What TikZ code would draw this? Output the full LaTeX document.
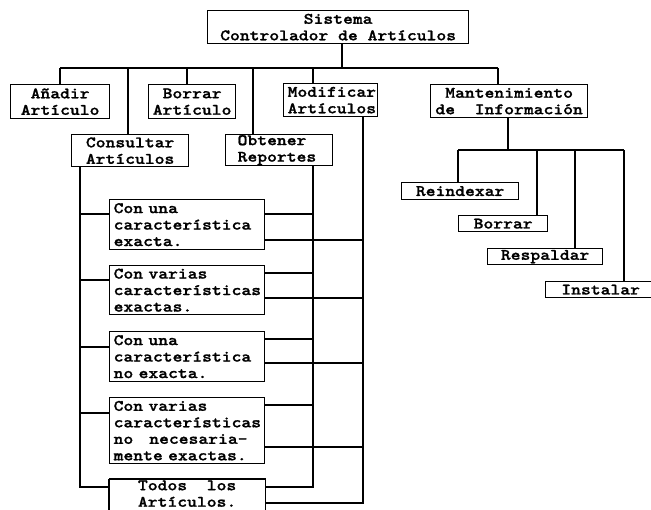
\documentclass[tikz,border=0pt]{standalone}
\usepackage{fontspec}
\newfontfamily\dotfont{lmmonolt10-bold.otf}[FakeStretch=1.17, FakeBold=1.2]
\begin{document}
\begin{tikzpicture}[x=1pt,y=-1pt,
  line width=1.3pt,
  every node/.style={font=\dotfont\fontsize{16}{16.5}\selectfont},
  cbox/.style={draw, anchor=north west, inner sep=0pt, align=center},
  lbox/.style={draw, anchor=north west, inner xsep=4pt, inner ysep=0pt,
               align=left, text width=147pt, minimum width=155pt},
  wire/.style={line width=1.3pt}]
\clip (0,0) rectangle (651,510);
\fill[white] (0,0) rectangle (651,510);

% root and first level
\node[cbox, minimum width=261pt, minimum height=33pt] (sys) at (207,10)
  {Sistema\\Controlador de Artículos};
\node[cbox, minimum width=99pt, minimum height=34pt] (add) at (10,84)
  {Añadir\\Artículo};
\node[cbox, minimum width=87pt, minimum height=34pt] (del) at (148,84)
  {Borrar\\Artículo};
\node[cbox, minimum width=117pt, minimum height=32pt] (qry) at (71,134)
  {Consultar\\Artículos};
\node[draw, anchor=north west, inner xsep=12pt, inner ysep=0pt, align=left,
      text width=83pt, minimum width=107pt, minimum height=31pt] (rep) at (225,134)
  {Obtener\\Reportes};
\node[draw, anchor=north west, inner xsep=4pt, inner ysep=0pt, align=left,
      text width=86pt, minimum width=94pt, minimum height=33pt] (mod) at (283,83)
  {Modificar\\Artículos};
\node[cbox, minimum width=157pt, minimum height=33pt] (man) at (430,84)
  {Mantenimiento\\de\ \ Información};

% query criteria
\node[lbox, minimum height=50pt] (c1) at (109,199)
  {Con una\\característica\\exacta.};
\node[lbox, minimum height=49pt] (c2) at (109,265)
  {Con varias\\características\\exactas.};
\node[lbox, minimum height=50pt] (c3) at (109,331)
  {Con una\\característica\\no exacta.};
\node[lbox, minimum height=66pt] (c4) at (109,397)
  {Con varias\\características\\no\ \ \ necesaria-\\mente exactas.};
% the last box runs past the lower edge: only its top and sides are drawn
\node[cbox, draw=none, minimum width=155pt, minimum height=28pt] (c5) at (109,479)
  {Todos\ \ los\\Artículos.};
\draw[wire] (c5.north west) -- ++(0,40) (c5.north west) -- (c5.north east) -- ++(0,40);

% maintenance tasks
\node[cbox, minimum width=117pt, minimum height=17pt] (rix) at (401,182) {Reindexar};
\node[cbox, minimum width=89pt, minimum height=16pt] (era) at (458,215) {Borrar};
\node[cbox, minimum width=115pt, minimum height=16pt] (bak) at (487,248) {Respaldar};
\node[cbox, minimum width=110pt, minimum height=16pt, text width=103pt] (ins) at (545,281) {Instalar};

% junctions on the main bus
\coordinate (j0) at (342,68);
\coordinate (jA) at (60,68);
\coordinate (jQ) at (128,68);
\coordinate (jB) at (187,68);
\coordinate (jR) at (253,68);
\coordinate (jM) at (313,68);
\coordinate (jN) at (498,68);

\draw[wire] (sys.south -| j0) -- (j0);
\draw[wire] (jA) -- (jN);
\draw[wire] (jA) -- (add.north -| jA);
\draw[wire] (jQ) -- (qry.north -| jQ);
\draw[wire] (jB) -- (del.north -| jB);
\draw[wire] (jR) -- (rep.north -| jR);
\draw[wire] (jM) -- (mod.north -| jM);
\draw[wire] (jN) -- (man.north -| jN);

% vertical trunks of the lower section
\coordinate (tq) at (80,487);
\coordinate (tr) at (313,487);
\coordinate (tm) at (363,503);
\draw[wire] (qry.south -| tq) -- (tq) -- (c5.west |- tq);
\draw[wire] (rep.south -| tr) -- (tr) -- (c5.east |- tr);
\draw[wire] (mod.south -| tm) -- (tm) -- (c5.east |- tm);

% branches from the trunks to each criterion
\foreach \n/\yl/\yr/\ym in {c1/214/214/240, c2/280/273/298, c3/347/339/363, c4/413/405/447}{
  \draw[wire] (tq |- 0,\yl) -- (\n.west |- 0,\yl);
  \draw[wire] (\n.east |- 0,\yr) -- (tr |- 0,\yr);
  \draw[wire] (\n.east |- 0,\ym) -- (tm |- 0,\ym);
}

% maintenance sub-tree
\coordinate (k0) at (508,150);
\coordinate (k1) at (458,150);
\coordinate (k2) at (537,150);
\coordinate (k3) at (575,150);
\coordinate (k4) at (624,150);
\draw[wire] (man.south -| k0) -- (k0);
\draw[wire] (k1) -- (k4);
\draw[wire] (k1) -- (rix.north -| k1);
\draw[wire] (k2) -- (era.north -| k2);
\draw[wire] (k3) -- (bak.north -| k3);
\draw[wire] (k4) -- (ins.north -| k4);
\end{tikzpicture}
\end{document}
